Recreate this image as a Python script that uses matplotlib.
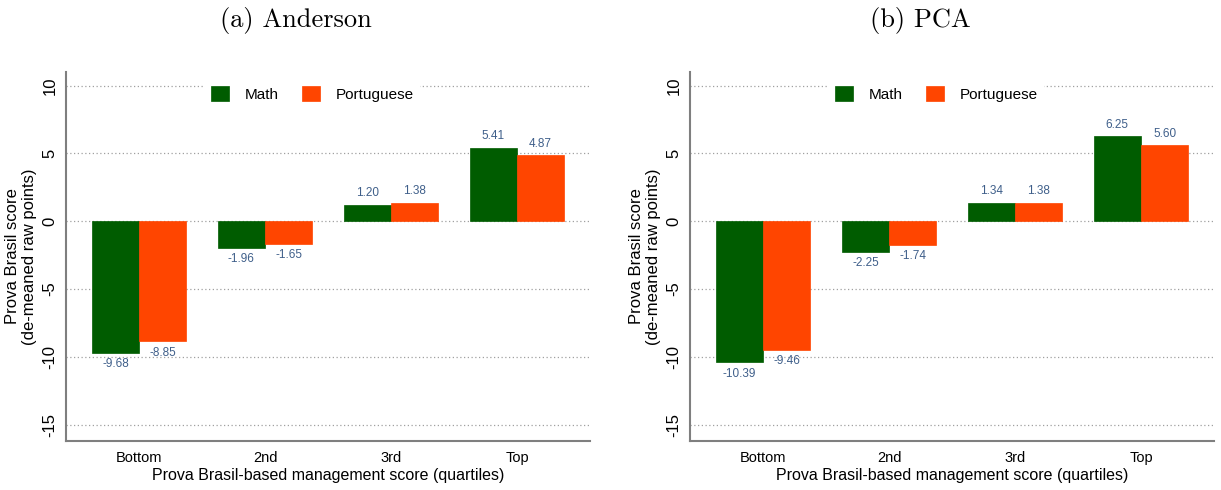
import matplotlib
matplotlib.use("Agg")
import matplotlib.pyplot as plt
import numpy as np

quartiles = ["Bottom", "2nd", "3rd", "Top"]
anderson_math = [-9.68, -1.96, 1.20, 5.41]
anderson_port = [-8.85, -1.65, 1.38, 4.87]
pca_math = [-10.39, -2.25, 1.34, 6.25]
pca_port = [-9.46, -1.74, 1.38, 5.60]
panel_titles = ["(a) Anderson", "(b) PCA"]

GREEN = "#005c00"
ORANGE = "#ff4500"
LABEL = "#3f5f8a"
SPINE = "#7f7f7f"

plt.rcParams["font.family"] = ["Liberation Sans", "DejaVu Sans"]

fig = plt.figure(figsize=(12.21, 4.9), dpi=100)
W, H = 1221, 490


def panel(left, math, port, title, title_x):
    ax = fig.add_axes([left / W, 49 / H, 524 / W, 369 / H])
    x = np.arange(len(quartiles))
    w = 0.375
    b1 = ax.bar(x - w / 2, math, w, color=GREEN, label="Math",
                edgecolor=GREEN, lw=0.5)
    b2 = ax.bar(x + w / 2, port, w, color=ORANGE, label="Portuguese",
                edgecolor=ORANGE, lw=0.5)
    for bars, vals in ((b1, math), (b2, port)):
        for b, v in zip(bars, vals):
            off = 4 if v > 0 else -4
            ax.annotate(f"{v:.2f}", (b.get_x() + b.get_width() / 2, v),
                        xytext=(0, off), textcoords="offset points",
                        ha="center", va="bottom" if v > 0 else "top",
                        fontsize=8.5, color=LABEL)
    ax.set_xlim(-0.58, 3.58)
    ax.set_ylim(-16.2, 11)
    ax.set_yticks([-15, -10, -5, 0, 5, 10])
    ax.set_yticklabels(["-15", "-10", "-5", "0", "5", "10"], rotation=90,
                       va="center", fontsize=12)
    ax.set_xticks(x)
    ax.set_xticklabels(quartiles, fontsize=10.5)
    ax.tick_params(axis="both", length=0)
    ax.tick_params(axis="y", pad=6)
    ax.tick_params(axis="x", pad=7)
    ax.yaxis.grid(True, ls=(0, (1, 2)), color="#a0a0a0", lw=0.9)
    ax.set_axisbelow(True)
    for s in ("top", "right"):
        ax.spines[s].set_visible(False)
    for s in ("left", "bottom"):
        ax.spines[s].set_color(SPINE)
        ax.spines[s].set_linewidth(1.5)
    ax.set_ylabel("Prova Brasil score\n(de-meaned raw points)", fontsize=12,
                  labelpad=4, linespacing=1.2)
    ax.set_xlabel("Prova Brasil-based management score (quartiles)",
                  fontsize=11.5, labelpad=2)
    leg = ax.legend(loc="upper center", ncol=2, bbox_to_anchor=(0.47, 1.0),
                    frameon=True, fancybox=False, edgecolor="white",
                    framealpha=1, fontsize=11, handlelength=1.2,
                    handleheight=1.2, columnspacing=1.5, handletextpad=1.0,
                    borderpad=0.4)
    leg.get_frame().set_linewidth(0)
    fig.text(title_x / W, 1 - 21 / H, title, family="cmr10", fontsize=19,
             ha="center", va="center")


panel(66, anderson_math, anderson_port, panel_titles[0], 296)
panel(690, pca_math, pca_port, panel_titles[1], 920)

plt.savefig("out.png", dpi=100)
